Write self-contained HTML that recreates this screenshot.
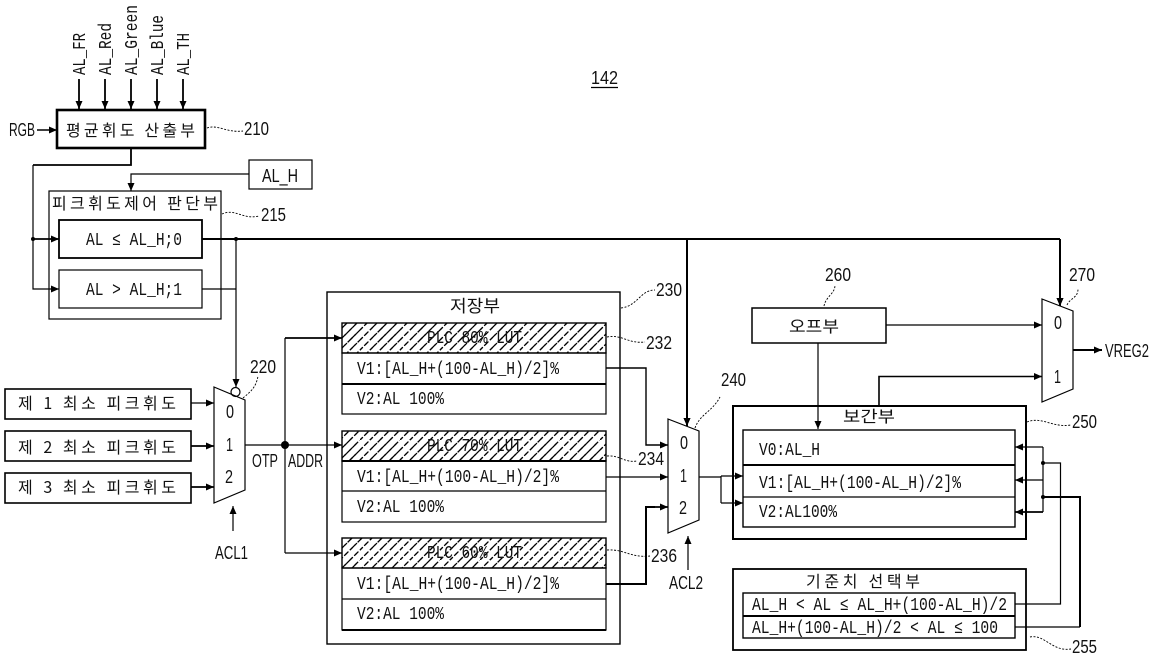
<!DOCTYPE html>
<html><head><meta charset="utf-8"><style>
html,body{margin:0;padding:0;background:#fff}
svg{display:block}
text{font-family:"Liberation Sans","Noto Sans CJK KR",sans-serif;font-size:18px;fill:#111}
.m{font-family:"Liberation Mono","Noto Sans CJK KR",monospace;font-size:18px}
.k{font-family:"Noto Sans CJK KR","Liberation Sans",sans-serif;font-size:16px}
.b{fill:none;stroke:#000;stroke-width:1.2}
.t{fill:none;stroke:#000;stroke-width:2.6}
.l{fill:none;stroke:#000;stroke-width:1.2}
.h{fill:none;stroke:#000;stroke-width:2.6}
.s{fill:none;stroke:#000;stroke-width:.9;stroke-dasharray:2 1.5}
</style></head><body>
<svg width="1156" height="666" viewBox="0 0 1156 666" xmlns="http://www.w3.org/2000/svg">
<defs>
<marker id="a" markerWidth="9" markerHeight="9" refX="8" refY="4" orient="auto" markerUnits="userSpaceOnUse"><path d="M0 0.5L8 4L0 7.500z" fill="#000"/></marker>
<pattern id="p" width="40" height="40" patternUnits="userSpaceOnUse">
<rect width="40" height="40" fill="#fff"/>
<g stroke="#000" stroke-width="1.250" fill="none">
<path stroke-dasharray="11 2 6 2 8 3" d="M-5 45L45 -5M5 45L45 5M-5 35L35 -5M15 45L45 15M-5 25L25 -5M25 45L45 25M-5 15L15 -5"/>
<path stroke-dasharray="4 3 3 4" d="M0 40L40 0M10 40L40 10M0 30L30 0M20 40L40 20M0 20L20 0M30 40L40 30M0 10L10 0"/>
</g>
</pattern>
</defs>

<!-- top inputs -->
<text class="m" transform="translate(85,75) rotate(-90)" textLength="42" lengthAdjust="spacingAndGlyphs">AL_FR</text>
<text class="m" transform="translate(111,75) rotate(-90)" textLength="52" lengthAdjust="spacingAndGlyphs">AL_Red</text>
<text class="m" transform="translate(137,75) rotate(-90)" textLength="70" lengthAdjust="spacingAndGlyphs">AL_Green</text>
<text class="m" transform="translate(163,75) rotate(-90)" textLength="60" lengthAdjust="spacingAndGlyphs">AL_Blue</text>
<text class="m" transform="translate(189,75) rotate(-90)" textLength="42" lengthAdjust="spacingAndGlyphs">AL_TH</text>
<path class="h" style="stroke-width:1.8" marker-end="url(#a)" d="M79 79V109"/>
<path class="h" style="stroke-width:1.8" marker-end="url(#a)" d="M105 79V109"/>
<path class="h" style="stroke-width:1.8" marker-end="url(#a)" d="M131 79V109"/>
<path class="h" style="stroke-width:1.8" marker-end="url(#a)" d="M157 79V109"/>
<path class="h" style="stroke-width:1.8" marker-end="url(#a)" d="M183 79V109"/>

<text x="591" y="84" textLength="27" lengthAdjust="spacingAndGlyphs">142</text>
<path class="l" d="M591 87.500H618"/>

<!-- 210 -->
<rect class="t" x="57" y="110" width="148" height="38"/>
<text class="k" x="66" y="136" textLength="129" lengthAdjust="spacing">평균휘도 산출부</text>
<text x="9" y="136" textLength="26" lengthAdjust="spacingAndGlyphs">RGB</text>
<path class="l" style="stroke-width:1.6" marker-end="url(#a)" d="M37 130H57"/>
<path class="s" d="M207 128C218 124 226 133 243 131"/>
<text x="244" y="135" textLength="25" lengthAdjust="spacingAndGlyphs">210</text>

<!-- 210 output -->
<path class="l" style="stroke-width:1.8" d="M131 148V165H33"/>
<path class="l" marker-end="url(#a)" d="M33 165V289H59"/>
<path class="h" style="stroke-width:1.8" marker-end="url(#a)" d="M33 239H59"/>
<circle cx="33" cy="239" r="2"/>

<!-- AL_H -->
<rect class="b" x="249" y="160" width="63" height="29"/>
<text x="262" y="182" textLength="36" lengthAdjust="spacingAndGlyphs">AL_H</text>
<path class="l" marker-end="url(#a)" d="M249 174H131V191"/>

<!-- 215 -->
<rect class="b" x="49" y="191" width="172" height="128"/>
<text class="k" x="52" y="209" textLength="166" lengthAdjust="spacing">피크휘도제어 판단부</text>
<rect class="b" style="stroke-width:1.8" x="59" y="220" width="143" height="38"/>
<rect class="b" x="59" y="270" width="143" height="38"/>
<text class="m" x="86" y="245" textLength="96" lengthAdjust="spacingAndGlyphs">AL ≤ AL_H;0</text>
<text class="m" x="86" y="295" textLength="96" lengthAdjust="spacingAndGlyphs">AL &gt; AL_H;1</text>
<path class="s" d="M222 214C235 208 243 220 259 216"/>
<text x="261" y="221" textLength="25" lengthAdjust="spacingAndGlyphs">215</text>

<!-- long bus -->
<path class="h" style="stroke-width:2" d="M202 239H1060"/>
<path class="h" style="stroke-width:2" marker-end="url(#a)" d="M1060 239V306"/>
<path class="h" marker-end="url(#a)" style="stroke-width:2" d="M687 239V426"/>
<circle cx="236" cy="239" r="2"/>
<path class="l" d="M202 289H236"/>
<path class="l" marker-end="url(#a)" d="M236 239V387"/>
<circle cx="235.500" cy="392" r="4.500" fill="#fff" stroke="#000" stroke-width="1.200"/>

<!-- min peak boxes -->
<rect class="b" style="stroke-width:1.6" x="5" y="389" width="186" height="30"/>
<rect class="b" style="stroke-width:1.6" x="5" y="431" width="186" height="30"/>
<rect class="b" style="stroke-width:1.6" x="5" y="473" width="186" height="30"/>
<text class="k" x="18" y="409" textLength="158" lengthAdjust="spacing">제 1 최소 피크휘도</text>
<text class="k" x="18" y="453" textLength="158" lengthAdjust="spacing">제 2 최소 피크휘도</text>
<text class="k" x="18" y="493" textLength="158" lengthAdjust="spacing">제 3 최소 피크휘도</text>
<path class="l" marker-end="url(#a)" d="M191 403H214"/>
<path class="l" style="stroke-width:1.800" marker-end="url(#a)" d="M191 446H214"/>
<path class="l" style="stroke-width:1.800" marker-end="url(#a)" d="M191 487H214"/>

<!-- mux 220 -->
<path class="b" d="M214 387L245 400V490L214 503Z" fill="#fff"/>
<text x="226" y="418" textLength="8" lengthAdjust="spacingAndGlyphs">0</text>
<text x="226" y="451" textLength="7" lengthAdjust="spacingAndGlyphs">1</text>
<text x="225" y="483" textLength="8" lengthAdjust="spacingAndGlyphs">2</text>
<path class="s" d="M243 398C250 392 256 388 258 376"/>
<text x="250" y="373" textLength="26" lengthAdjust="spacingAndGlyphs">220</text>
<path class="l" marker-end="url(#a)" d="M233 531V506"/>
<text x="215" y="559" textLength="33" lengthAdjust="spacingAndGlyphs">ACL1</text>

<path class="l" d="M245 445H285"/>
<circle cx="285" cy="445" r="4"/>
<path class="l" d="M285 338V553"/>
<text x="252" y="467" textLength="26" lengthAdjust="spacingAndGlyphs">OTP</text>
<text x="288" y="467" textLength="35" lengthAdjust="spacingAndGlyphs">ADDR</text>

<!-- storage -->
<rect x="327" y="292" width="293" height="352" fill="#fff" stroke="#000" stroke-width="1.400"/>
<text class="k" style="font-size:17px" x="450" y="312" textLength="50" lengthAdjust="spacingAndGlyphs">저장부</text>
<path class="l" style="stroke-width:1.800" marker-end="url(#a)" d="M285 338H342"/>
<path class="l" marker-end="url(#a)" d="M285 445H342"/>
<path class="l" marker-end="url(#a)" d="M285 553H342"/>

<!-- LUT 1 -->
<rect x="342" y="323" width="264" height="30" fill="url(#p)" stroke="#000" stroke-width="1.400"/>
<rect class="b" x="342" y="353" width="264" height="61" stroke-width="1.400"/>
<path class="l" style="stroke-width:2" d="M342 384H606"/>
<text class="m" x="427" y="343" textLength="95" lengthAdjust="spacingAndGlyphs">PLC 80% LUT</text>
<text class="m" x="357" y="374" textLength="202" lengthAdjust="spacingAndGlyphs">V1:[AL_H+(100-AL_H)/2]%</text>
<text class="m" x="357" y="404" textLength="87" lengthAdjust="spacingAndGlyphs">V2:AL 100%</text>
<!-- LUT 2 -->
<rect x="342" y="431" width="264" height="30" fill="url(#p)" stroke="#000" stroke-width="1.400"/>
<rect class="b" x="342" y="461" width="264" height="61"/>
<path class="l" style="stroke-width:2" d="M342 461H606"/>
<path class="l" d="M342 491H606"/>
<text class="m" x="427" y="451" textLength="95" lengthAdjust="spacingAndGlyphs">PLC 70% LUT</text>
<text class="m" x="357" y="482" textLength="202" lengthAdjust="spacingAndGlyphs">V1:[AL_H+(100-AL_H)/2]%</text>
<text class="m" x="357" y="512" textLength="87" lengthAdjust="spacingAndGlyphs">V2:AL 100%</text>
<!-- LUT 3 -->
<rect x="342" y="538" width="264" height="30" fill="url(#p)" stroke="#000" stroke-width="1.400"/>
<rect class="b" x="342" y="568" width="264" height="62"/>
<path class="l" style="stroke-width:2" d="M342 630H606"/>
<path class="l" d="M342 599H606"/>
<text class="m" x="427" y="558" textLength="95" lengthAdjust="spacingAndGlyphs">PLC 60% LUT</text>
<text class="m" x="357" y="589" textLength="202" lengthAdjust="spacingAndGlyphs">V1:[AL_H+(100-AL_H)/2]%</text>
<text class="m" x="357" y="619" textLength="87" lengthAdjust="spacingAndGlyphs">V2:AL 100%</text>

<path class="s" d="M621 308C638 306 640 290 655 290"/>
<text x="656" y="296" textLength="26" lengthAdjust="spacingAndGlyphs">230</text>
<path class="s" d="M607 337C622 334 628 344 645 342"/>
<text x="646" y="349" textLength="26" lengthAdjust="spacingAndGlyphs">232</text>
<path class="s" d="M607 456C620 455 624 463 637 461"/>
<text x="638" y="465" textLength="26" lengthAdjust="spacingAndGlyphs">234</text>
<path class="s" d="M607 550C625 549 630 558 650 556"/>
<text x="651" y="562" textLength="26" lengthAdjust="spacingAndGlyphs">236</text>

<!-- to mux 240 -->
<path class="l" style="stroke-width:1.400" marker-end="url(#a)" d="M606 368H646V445H668"/>
<path class="l" marker-end="url(#a)" d="M606 477H668"/>
<path class="h" style="stroke-width:2" d="M606 584H646V507H655"/>
<path class="l" style="stroke-width:1.800" marker-end="url(#a)" d="M650 507H668"/>

<!-- mux 240 -->
<path class="b" d="M668 419L699 431V520L668 533Z" fill="#fff"/>
<path class="h" style="stroke-width:2" marker-end="url(#a)" d="M687 400V426"/>
<text x="680" y="449" textLength="8" lengthAdjust="spacingAndGlyphs">0</text>
<text x="680" y="482" textLength="7" lengthAdjust="spacingAndGlyphs">1</text>
<text x="679" y="514" textLength="8" lengthAdjust="spacingAndGlyphs">2</text>
<path class="s" d="M695 428C700 414 712 412 720 397"/>
<text x="721" y="386" textLength="25" lengthAdjust="spacingAndGlyphs">240</text>
<path class="l" marker-end="url(#a)" d="M688 570V536"/>
<text x="669" y="589" textLength="34" lengthAdjust="spacingAndGlyphs">ACL2</text>
<path class="l" d="M699 477H721M721 476V503"/>
<path class="l" marker-end="url(#a)" d="M721 476H743"/>
<path class="l" marker-end="url(#a)" d="M721 503H743"/>

<!-- 260 -->
<rect class="b" style="stroke-width:1.500" x="752" y="308" width="134" height="35"/>
<text class="k" x="789" y="332" textLength="50" lengthAdjust="spacingAndGlyphs">오프부</text>
<path class="s" d="M824 306C826 296 835 294 835 285"/>
<text x="825" y="281" textLength="26" lengthAdjust="spacingAndGlyphs">260</text>
<path class="l" marker-end="url(#a)" d="M886 325H1042"/>
<path class="l" marker-end="url(#a)" d="M818 343V429"/>

<!-- mux 270 -->
<path class="b" d="M1042 299L1073 311V389L1042 402Z" fill="#fff"/>
<path class="h" style="stroke-width:2" marker-end="url(#a)" d="M1060 290V306"/>
<text x="1054" y="329" textLength="8" lengthAdjust="spacingAndGlyphs">0</text>
<text x="1054" y="383" textLength="7" lengthAdjust="spacingAndGlyphs">1</text>
<path class="s" d="M1067 305C1070 298 1078 298 1078 289"/>
<text x="1069" y="281" textLength="26" lengthAdjust="spacingAndGlyphs">270</text>
<path class="h" style="stroke-width:2" marker-end="url(#a)" d="M1073 350H1102"/>
<text x="1105" y="357" textLength="44" lengthAdjust="spacingAndGlyphs">VREG2</text>
<path class="l" style="stroke-width:1.600" marker-end="url(#a)" d="M879 406V376.500H1042"/>

<!-- 250 -->
<rect class="t" style="stroke-width:2" x="733" y="406" width="293" height="133"/>
<text class="k" x="843" y="422" textLength="52" lengthAdjust="spacingAndGlyphs">보간부</text>
<rect class="b" style="stroke-width:1.400" x="743" y="430" width="272" height="97"/>
<path class="l" style="stroke-width:2" d="M743 465H1015"/>
<path class="l" d="M743 497H1015"/>
<text class="m" x="759" y="455" textLength="61" lengthAdjust="spacingAndGlyphs">V0:AL_H</text>
<text class="m" x="759" y="488" textLength="202" lengthAdjust="spacingAndGlyphs">V1:[AL_H+(100-AL_H)/2]%</text>
<text class="m" x="759" y="517" textLength="78" lengthAdjust="spacingAndGlyphs">V2:AL100%</text>
<path class="s" d="M1027 422C1042 416 1052 428 1071 425"/>
<text x="1072" y="428" textLength="25" lengthAdjust="spacingAndGlyphs">250</text>

<!-- right connectors -->
<path class="l" marker-end="url(#a)" d="M1043 447H1015"/>
<path class="l" marker-end="url(#a)" d="M1043 480H1015"/>
<path class="l" style="stroke-width:1.800" marker-end="url(#a)" d="M1043 512H1015"/>
<path class="l" d="M1043 447V512"/>
<circle cx="1043" cy="463" r="2"/>
<circle cx="1043" cy="497" r="2"/>
<path class="l" d="M1043 463H1060.500V604H1015"/>
<path class="l" style="stroke-width:2" d="M1043 497H1080V627"/>
<path class="l" d="M1080 627H1015"/>

<!-- 255 -->
<rect class="t" style="stroke-width:1.800" x="733" y="569" width="293" height="81"/>
<text class="k" x="806" y="587" textLength="114" lengthAdjust="spacing">기준치 선택부</text>
<rect class="b" style="stroke-width:1.400" x="743" y="593" width="272" height="45"/>
<path class="l" style="stroke-width:2" d="M743 616H1015"/>
<text class="m" x="752" y="610" textLength="255" lengthAdjust="spacingAndGlyphs">AL_H &lt; AL ≤ AL_H+(100-AL_H)/2</text>
<text class="m" x="752" y="633" textLength="246" lengthAdjust="spacingAndGlyphs">AL_H+(100-AL_H)/2 &lt; AL ≤ 100</text>
<path class="s" d="M1030 637C1045 634 1052 652 1071 649"/>
<text x="1072" y="653" textLength="25" lengthAdjust="spacingAndGlyphs">255</text>
</svg>
</body></html>
